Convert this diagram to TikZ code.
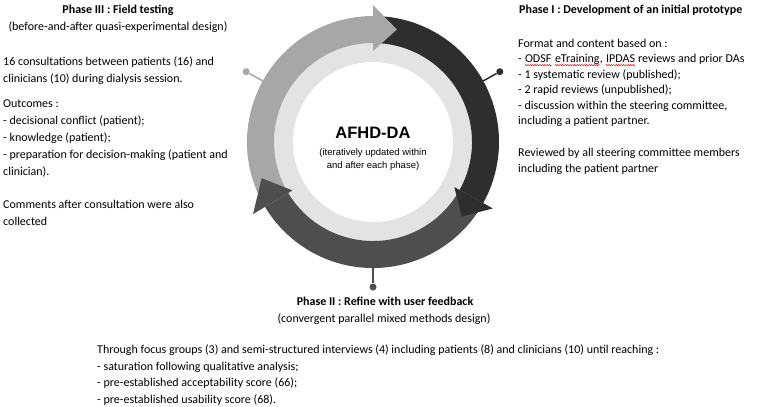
\documentclass[tikz,border=0pt]{standalone}
\usepackage{fontspec}
\setmainfont{Carlito}
\newfontfamily\hubfont{Liberation Sans}
\usetikzlibrary{decorations.pathmorphing}
\newcommand\spellwave[1]{\tikz[baseline=(w.base)]{\node[inner sep=0pt, anchor=base] (w) {#1};
    \draw[red, line width=0.5pt, decorate, decoration={snake, amplitude=0.6pt, segment length=2.4pt}]
    ([yshift=-2.6pt]w.base west) -- ([yshift=-2.6pt]w.base east);}}
\definecolor{phaseone}{HTML}{2E2E2E}
\definecolor{phasetwo}{HTML}{4E4E4E}
\definecolor{phasethree}{HTML}{A7A7A7}
\definecolor{hubring}{HTML}{E3E3E3}

\begin{document}
\begin{tikzpicture}[x=1pt, y=1pt,
    title/.style={inner sep=0pt, font=\bfseries\fontsize{12}{14}\selectfont},
    txt/.style={inner sep=0pt, align=left, font=\fontsize{12}{17}\selectfont},
    pindot/.style={circle, inner sep=0pt, minimum size=7pt}]
    \useasboundingbox (0,0) rectangle (766,-407);

    \begin{scope}[shift={(373,-142)}]
        % hub
        \fill[hubring] (0,0) circle (104);
        \fill[white] (0,0) circle (80);
        \node[font=\hubfont\bfseries\fontsize{16.5}{18}\selectfont] (hub) at (0,9) {AFHD-DA};
        \node[align=center, font=\hubfont\fontsize{9.5}{13}\selectfont] (hubnote) at (0,-17.5)
            {(iteratively updated within\\and after each phase)};

        % shafts
        \fill[phasethree] (208:126) arc[start angle=208, end angle=90, radius=126]
            -- (90:99) arc[start angle=90, end angle=208, radius=99] -- cycle;
        \fill[phaseone] (90:126) arc[start angle=90, end angle=-29, radius=126]
            -- (-29:99) arc[start angle=-29, end angle=90, radius=99] -- cycle;
        \fill[phasetwo] (-29:126) arc[start angle=-29, end angle=-149, radius=126]
            -- (-149:99) arc[start angle=-149, end angle=-29, radius=99] -- cycle;

        % heads
        \fill[phasethree] (90:137) -- (78:115) -- (90:91) -- cycle;
        \fill[phaseone] (-29:137) -- (-40:116) -- (-29:93) -- cycle;
        \fill[phasetwo] (-149:140) -- (-162:117) -- (-149:94) -- cycle;

        % pins
        \coordinate (ringthree) at (151:124);
        \coordinate (ringone) at (29:124);
        \coordinate (ringtwo) at (-90:125);
        \node[pindot, fill=phasethree] (dotthree) at (151:145) {};
        \node[pindot, fill=phaseone] (dotone) at (29:145) {};
        \node[pindot, fill=phasetwo] (dottwo) at (-90:145) {};
        \draw[phasethree, line width=1.5pt] (ringthree) -- (dotthree);
        \draw[phaseone, line width=1.5pt] (ringone) -- (dotone);
        \draw[phasetwo, line width=1.5pt] (ringtwo) -- (dottwo);
    \end{scope}

    % Phase III (base = last line)
    \node[title, anchor=base] (titlethree) at (118,-13) {Phase III : Field testing};
    \node[txt, anchor=base] (designthree) at (118,-30) {(before-and-after quasi-experimental design)};
    \node[txt, anchor=base west] (consult) at (3,-82)
        {16 consultations between patients (16) and\\clinicians (10) during dialysis session.};
    \node[txt, anchor=base west] (outcomes) at (3,-175)
        {Outcomes :\\- decisional conflict (patient);\\- knowledge (patient);\\
         - preparation for decision-making (patient and\\clinician).};
    \node[txt, anchor=base west] (comments) at (3,-225)
        {Comments after consultation were also\\collected};

    % Phase I
    \node[title, anchor=base west] (titleone) at (519,-13) {Phase I : Development of an initial prototype};
    \node[txt, anchor=base west, font=\fontsize{12}{15.5}\selectfont] (basis) at (518,-124.5)
        {Format and content based on :\\- \spellwave{ODSF} \spellwave{eTraining}, \spellwave{IPDAS} reviews and prior DAs\\
         - 1 systematic review (published);\\- 2 rapid reviews (unpublished);\\
         - discussion within the steering committee,\\including a patient partner.};
    \node[txt, anchor=base west, font=\fontsize{12}{16}\selectfont] (reviewed) at (518,-172)
        {Reviewed by all steering committee members\\including the patient partner};

    % Phase II
    \node[title, anchor=base] (titletwo) at (385,-305) {Phase II : Refine with user feedback};
    \node[txt, anchor=base] (designtwo) at (384,-322) {(convergent parallel mixed methods design)};
    \node[txt, anchor=base west, font=\fontsize{12}{16.5}\selectfont] (feedback) at (97,-403)
        {Through focus groups (3) and semi-structured interviews (4) including patients (8) and clinicians (10) until reaching :\\
         - saturation following qualitative analysis;\\- pre-established acceptability score (66);\\
         - pre-established usability score (68).};
\end{tikzpicture}
\end{document}
